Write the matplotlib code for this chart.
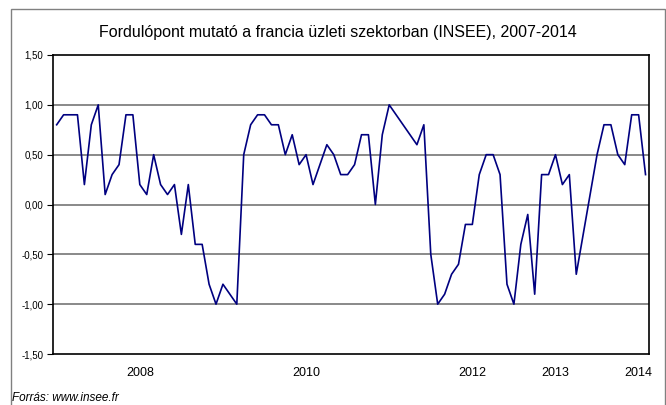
import matplotlib
matplotlib.use("Agg")
import matplotlib.pyplot as plt
from matplotlib.patches import Rectangle

plt.rcParams['font.family'] = ['Liberation Sans', 'DejaVu Sans']

# Monthly values, Jan 2007 .. Feb 2014
values = [0.8, 0.9, 0.9, 0.9, 0.2, 0.8, 1.0, 0.1, 0.3, 0.4, 0.9, 0.9,
          0.2, 0.1, 0.5, 0.2, 0.1, 0.2, -0.3, 0.2, -0.4, -0.4, -0.8, -1.0,
          -0.8, -0.9, -1.0, 0.5, 0.8, 0.9, 0.9, 0.8, 0.8, 0.5, 0.7, 0.4,
          0.5, 0.2, 0.4, 0.6, 0.5, 0.3, 0.3, 0.4, 0.7, 0.7, 0.0, 0.7,
          1.0, 0.9, 0.8, 0.7, 0.6, 0.8, -0.5, -1.0, -0.9, -0.7, -0.6, -0.2,
          -0.2, 0.3, 0.5, 0.5, 0.3, -0.8, -1.0, -0.4, -0.1, -0.9, 0.3, 0.3,
          0.5, 0.2, 0.3, -0.7, -0.3, 0.1, 0.5, 0.8, 0.8, 0.5, 0.4, 0.9,
          0.9, 0.3]
months = list(range(len(values)))
year_tick_pos = [12, 36, 60, 72, 84]
year_tick_labels = ["2008", "2010", "2012", "2013", "2014"]
y_ticks = [-1.5, -1.0, -0.5, 0.0, 0.5, 1.0, 1.5]
y_tick_labels = ["-1,50", "-1,00", "-0,50", "0,00", "0,50", "1,00", "1,50"]
title = "Fordulópont mutató a francia üzleti szektorban (INSEE), 2007-2014"
source = "Forrás: www.insee.fr"

fig = plt.figure(figsize=(6.66, 4.05), dpi=100)
ax = fig.add_axes([53/666, 1-354/405, (649-53)/666, (354-55)/405])

for g in [-1.0, -0.5, 0.0, 0.5, 1.0]:
    ax.axhline(g, color='#808080', lw=1.3, zorder=1)

ax.plot(months, values, color='#000080', lw=1.2, zorder=3)

ax.set_xlim(-0.53, 85.5)
ax.set_ylim(-1.5, 1.5)
ax.set_yticks(y_ticks)
ax.set_yticklabels(y_tick_labels, fontsize=7)
ax.set_xticks(year_tick_pos)
ax.set_xticklabels(year_tick_labels, fontsize=9)
ax.tick_params(axis='x', length=0, pad=9)
ax.tick_params(axis='y', length=4, width=0.8, pad=3, direction='out')
for s in ax.spines.values():
    s.set_color('black')
    s.set_linewidth(1.2)

fig.text(338/666, 1-32/405, title, ha='center', va='center', fontsize=11.5)
fig.text(12/666, 1-398/405, source, ha='left', va='center', fontsize=8.5, style='italic')

frame = Rectangle((11/666, -0.05), (665-11)/666, 1.05-9/405, transform=fig.transFigure,
                  fill=False, edgecolor='#808080', lw=1.0, clip_on=False)
fig.patches.append(frame)

fig.savefig("out.png", dpi=100)
